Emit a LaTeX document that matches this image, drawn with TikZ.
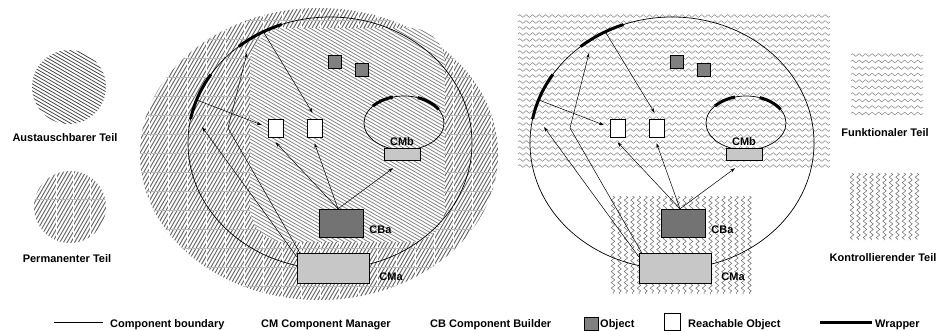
\documentclass[tikz,border=0pt]{standalone}
\usepackage{fontspec}
\setmainfont{Liberation Sans}
\usetikzlibrary{arrows.meta}
\usetikzlibrary{positioning}
\usetikzlibrary{decorations.pathmorphing}
\definecolor{objgray}{gray}{0.5}
\definecolor{mgrgray}{gray}{0.78}

\tikzset{
  lbl/.style={font=\bfseries\fontsize{11}{13}\selectfont, inner sep=0pt},
  arr/.style={line width=0.5pt, -{Stealth[length=5pt,width=3.2pt]}},
  bnd/.style={line width=0.7pt},
  wrap/.style={line width=3pt},
  objbox/.style={draw, fill=objgray, inner sep=0pt, minimum size=13pt},
  reach/.style={draw, fill=white, inner sep=0pt, minimum width=15pt, minimum height=18pt},
  mgrbox/.style={draw, fill=mgrgray, inner sep=0pt},
  cbbox/.style={draw, fill=objgray!90!black, inner sep=0pt, minimum width=44pt, minimum height=28pt},
  hatchp/.style={black!60, line width=0.95pt},
  hatche/.style={black!75, line width=0.75pt},
  hatchin/.style={black!50, line width=0.75pt},
  gridv/.style={white, line width=0.9pt},
  gridh/.style={gray!55, line width=0.5pt},
  zigh/.style={gray, line width=0.5pt, decorate, decoration={zigzag,segment length=6.5pt,amplitude=1.4pt}},
  zigv/.style={gray!80!black, line width=0.5pt, decorate, decoration={zigzag,segment length=5.5pt,amplitude=1.8pt}}
}

\begin{document}
\begin{tikzpicture}[x=1pt,y=-1pt]
    \useasboundingbox (0,0) rectangle (939,330);

    % legend, left
    \begin{scope}
        \clip (69,87) circle (37);
        \foreach \hy in {3,6.46,...,130}
            \draw[hatche] (30,\hy) -- ++(78,45);
    \end{scope}
    \node[lbl, anchor=base] (austxt) at (65,141) {Austauschbarer Teil};
    \begin{scope}
        \clip (70,207) circle (36);
        \foreach \hx in {-12,-8.3,...,110}
            \draw[hatchp] (\hx,245) -- ++(43.9,-76);
        \foreach \gx in {56,73,90}
            \draw[gridv] (\gx,169) -- (\gx,245);
        \draw[gridh] (32,199) -- (108,199);
    \end{scope}
    \node[lbl, anchor=base] (permtxt) at (67,262) {Permanenter Teil};

    % left component: permanent and exchangeable parts
    \begin{scope}
        \clip (319,154) ellipse [x radius=179, y radius=146];
        \foreach \hx in {-30,-26.3,...,500}
            \draw[hatchp] (\hx,300) -- ++(168.6,-292);
        \foreach \gx in {149,168,...,498}
            \draw[gridv] (\gx,8) -- (\gx,300);
        \foreach \gy in {20,39,...,300}
            \draw[gridh] (140,\gy) -- (498,\gy);
    \end{scope}
    \begin{scope}
        \clip[rounded corners=35pt] (250,28) rectangle (445,242);
        \fill[white] (250,28) rectangle (445,242);
        \foreach \hy in {-86,-82.54,...,245}
            \draw[hatchin] (250,\hy) -- ++(195,112.6);
    \end{scope}

    % right component: functional and controlling parts
    \foreach \zy in {16,22,...,166}
        \draw[zigh] (518,\zy) -- (830,\zy);
    \foreach \zx in {613,619.5,...,750}
        \draw[zigv] (\zx,196) -- (\zx,294);

    % legend, right
    \foreach \zy in {55,61.5,...,117}
        \draw[zigh] (851,\zy) -- (923,\zy);
    \node[lbl, anchor=base] (functxt) at (885,136) {Funktionaler Teil};
    \foreach \zx in {852,858.5,...,922}
        \draw[zigv] (\zx,173) -- (\zx,240);
    \node[lbl, anchor=base] (kontxt) at (883,261) {Kontrollierender Teil};

    % both components
    \foreach \s/\n in {0/L,342/R}{
    \begin{scope}[xshift=\s pt]
        \coordinate (bc\n) at (330,143);
        \draw[bnd] (bc\n) ellipse [x radius=142, y radius=126];
        \coordinate (cmbc\n) at (404,123);
        \draw[bnd] (cmbc\n) ellipse [x radius=40, y radius=27];

        \node[objbox] (ob1\n) at (334.5,62) {};
        \node[objbox] (ob2\n) at (362,69.5) {};
        \node[reach] (ro1\n) at (275.5,128) {};
        \node[reach] (ro2\n) at (314.5,128) {};
        \node[mgrbox, minimum width=36pt, minimum height=12pt] (cmb\n) at (402,154) {};
        \node[lbl, above=2pt of cmb\n] (cmbtxt\n) {CMb};
        \node[cbbox] (cba\n) at (341,223) {};
        \node[lbl, anchor=base west] (cbatxt\n) at ([xshift=6pt,yshift=4pt]cba\n.south east) {CBa};
        \node[mgrbox, minimum width=72pt, minimum height=30pt] (cma\n) at (333,268) {};
        \node[lbl, anchor=base west] (cmatxt\n) at ([xshift=10pt,yshift=3pt]cma\n.south east) {CMa};

        \path (bc\n) ++(242:142 and 126) coordinate (w1\n);
        \path (bc\n) ++(200:142 and 126) coordinate (w2\n);
        \coordinate (e3\n) at (202,127);
        \coordinate (k\n) at (228,128);
        \coordinate (e4\n) at (247,53);

        \draw[arr] (w1\n) -- ([xshift=-2pt,yshift=6pt]ro2\n.north);
        \draw[arr] (w2\n) -- ([xshift=-6pt,yshift=3pt]ro1\n.west);
        \draw[arr] ([yshift=-4pt]cma\n.north west) -- (e3\n);
        \draw[arr] ([xshift=3pt]cma\n.north west) -- (k\n) -- (e4\n);
        \draw[arr] ([xshift=-3pt]cba\n.north) -- ([yshift=-5pt]ro1\n.south);
        \draw[arr] ([xshift=-3pt]cba\n.north) -- ([yshift=-6pt]ro2\n.south);
        \draw[arr] ([xshift=-3pt]cba\n.north) -- ([xshift=-9pt,yshift=-8pt]cmb\n.south);

        \draw[wrap] (bc\n) ++(230:142 and 126) arc[start angle=230, end angle=250, x radius=142, y radius=126];
        \draw[wrap] (bc\n) ++(191:142 and 126) arc[start angle=191, end angle=213, x radius=142, y radius=126];
        \draw[wrap] (cmbc\n) ++(219:40 and 27) arc[start angle=219, end angle=254, x radius=40, y radius=27];
        \draw[wrap] (cmbc\n) ++(290:40 and 27) arc[start angle=290, end angle=330, x radius=40, y radius=27];
    \end{scope}
    }

    % legend, bottom
    \coordinate (lb1) at (54,322);
    \coordinate (lb2) at (103,322);
    \draw[bnd] (lb1) -- (lb2);
    \node[lbl, anchor=base west] (bndtxt) at (110,327) {Component boundary};
    \node[lbl, anchor=base west] (cmtxt) at (261,327) {CM Component Manager};
    \node[lbl, anchor=base west] (cbtxt) at (430,327) {CB Component Builder};
    \node[objbox, minimum width=14pt] (legob) at (591,323.5) {};
    \node[lbl, anchor=base west] (obtxt) at (600,327) {Object};
    \node[reach, minimum width=16pt, minimum height=17pt] (legro) at (672,321.5) {};
    \node[lbl, anchor=base west] (rotxt) at (688,327) {Reachable Object};
    \coordinate (lw1) at (820,322);
    \coordinate (lw2) at (872,322);
    \draw[wrap] (lw1) -- (lw2);
    \node[lbl, anchor=base west] (wrtxt) at (875,327) {Wrapper};
\end{tikzpicture}
\end{document}
